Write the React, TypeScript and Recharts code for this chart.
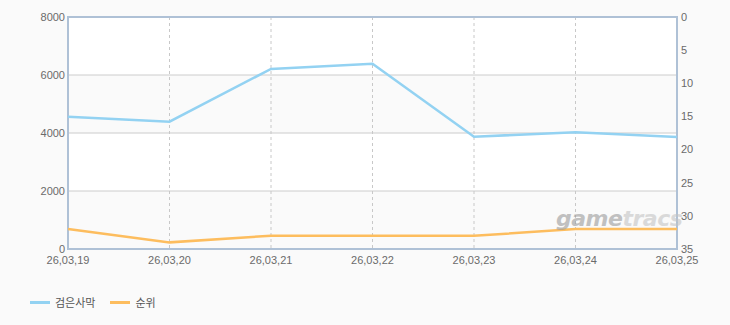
import React from 'react';
import {
  LineChart,
  Line,
  XAxis,
  YAxis,
  CartesianGrid,
  Legend,
  ReferenceArea,
} from 'recharts';

const dates = ['26,03,19', '26,03,20', '26,03,21', '26,03,22', '26,03,23', '26,03,24', '26,03,25'];
const playerValues = [4560, 4390, 6210, 6390, 3870, 4030, 3860];
const rankValues = [32, 34, 33, 33, 33, 32, 32];
const leftTicks = [0, 2000, 4000, 6000, 8000];
const rightTicks = [0, 5, 10, 15, 20, 25, 30, 35];

const SERIES_NAME = '검은사막';
const RANK_NAME = '순위';

const data = dates.map((d, i) => ({ date: d, value: playerValues[i], rank: rankValues[i] }));

const BLUE = '#93d2f2';
const ORANGE = '#fdbd5e';
const BORDER = '#afc1d6';
const tickStyle = { fontSize: 11, fill: '#6a6a6a', fontFamily: 'Liberation Sans, Arial, sans-serif' };

const LegendContent = () => (
  <div style={{ display: 'flex', alignItems: 'center', height: 20, paddingLeft: 30, fontFamily: '"Noto Sans CJK KR", sans-serif', fontSize: 11, color: '#555' }}>
    <span style={{ display: 'inline-block', width: 20, height: 3, background: BLUE, marginRight: 5 }} />
    <span style={{ marginRight: 15 }}>{SERIES_NAME}</span>
    <span style={{ display: 'inline-block', width: 20, height: 3, background: ORANGE, marginRight: 5 }} />
    <span>{RANK_NAME}</span>
  </div>
);

export default function App() {
  return (
    <div style={{ position: 'absolute', left: 0, top: 0, width: 730, height: 325, background: '#fafafa', overflow: 'hidden' }}>
      <LineChart width={730} height={325} data={data} margin={{ top: 17, right: 0, bottom: 13, left: 0 }}>
        <CartesianGrid
          yAxisId="left"
          stroke="#cccccc"
          horizontalFill={['#ffffff', '#fafafa']}
          fillOpacity={1}
          vertical={false}
        />
        <CartesianGrid yAxisId="left" stroke="#c8c8c8" strokeDasharray="3 3" horizontal={false} />
        <XAxis
          dataKey="date"
          height={43}
          tickLine={false}
          tickSize={0}
          tickMargin={7}
          axisLine={false}
          tick={tickStyle}
          interval={0}
          padding={{ left: 0, right: 0 }}
        />
        <YAxis
          yAxisId="left"
          width={68}
          domain={[0, 8000]}
          ticks={leftTicks}
          tickLine={false}
          tickSize={0}
          tickMargin={3}
          axisLine={false}
          tick={tickStyle}
          interval={0}
        />
        <YAxis
          yAxisId="right"
          orientation="right"
          width={53}
          domain={[0, 35]}
          reversed
          ticks={rightTicks}
          tickLine={false}
          tickSize={0}
          tickMargin={4}
          axisLine={false}
          tick={tickStyle}
          interval={0}
        />
        <ReferenceArea
          yAxisId="left"
          x1={dates[0]}
          x2={dates[dates.length - 1]}
          y1={leftTicks[0]}
          y2={leftTicks[leftTicks.length - 1]}
          fill="none"
          fillOpacity={0}
          stroke={BORDER}
          strokeOpacity={1}
          strokeWidth={2}
          ifOverflow="visible"
        />
        <Legend verticalAlign="bottom" align="left" content={<LegendContent />} />
        <Line yAxisId="left" type="linear" dataKey="value" name={SERIES_NAME} stroke={BLUE} strokeWidth={2.5} dot={false} activeDot={false} isAnimationActive={false} />
        <Line yAxisId="right" type="linear" dataKey="rank" name={RANK_NAME} stroke={ORANGE} strokeWidth={2.5} dot={false} activeDot={false} isAnimationActive={false} />
      </LineChart>
      <div
        style={{
          position: 'absolute',
          left: 556,
          top: 206,
          fontFamily: '"DejaVu Sans", sans-serif',
          fontStyle: 'italic',
          fontWeight: 'bold',
          fontSize: 22,
          letterSpacing: -0.5,
          opacity: 0.6,
          pointerEvents: 'none',
          lineHeight: '26px',
        }}
      >
        <span style={{ color: '#9a9a9a' }}>game</span>
        <span style={{ color: '#c4c4c4' }}>tracs</span>
      </div>
    </div>
  );
}
